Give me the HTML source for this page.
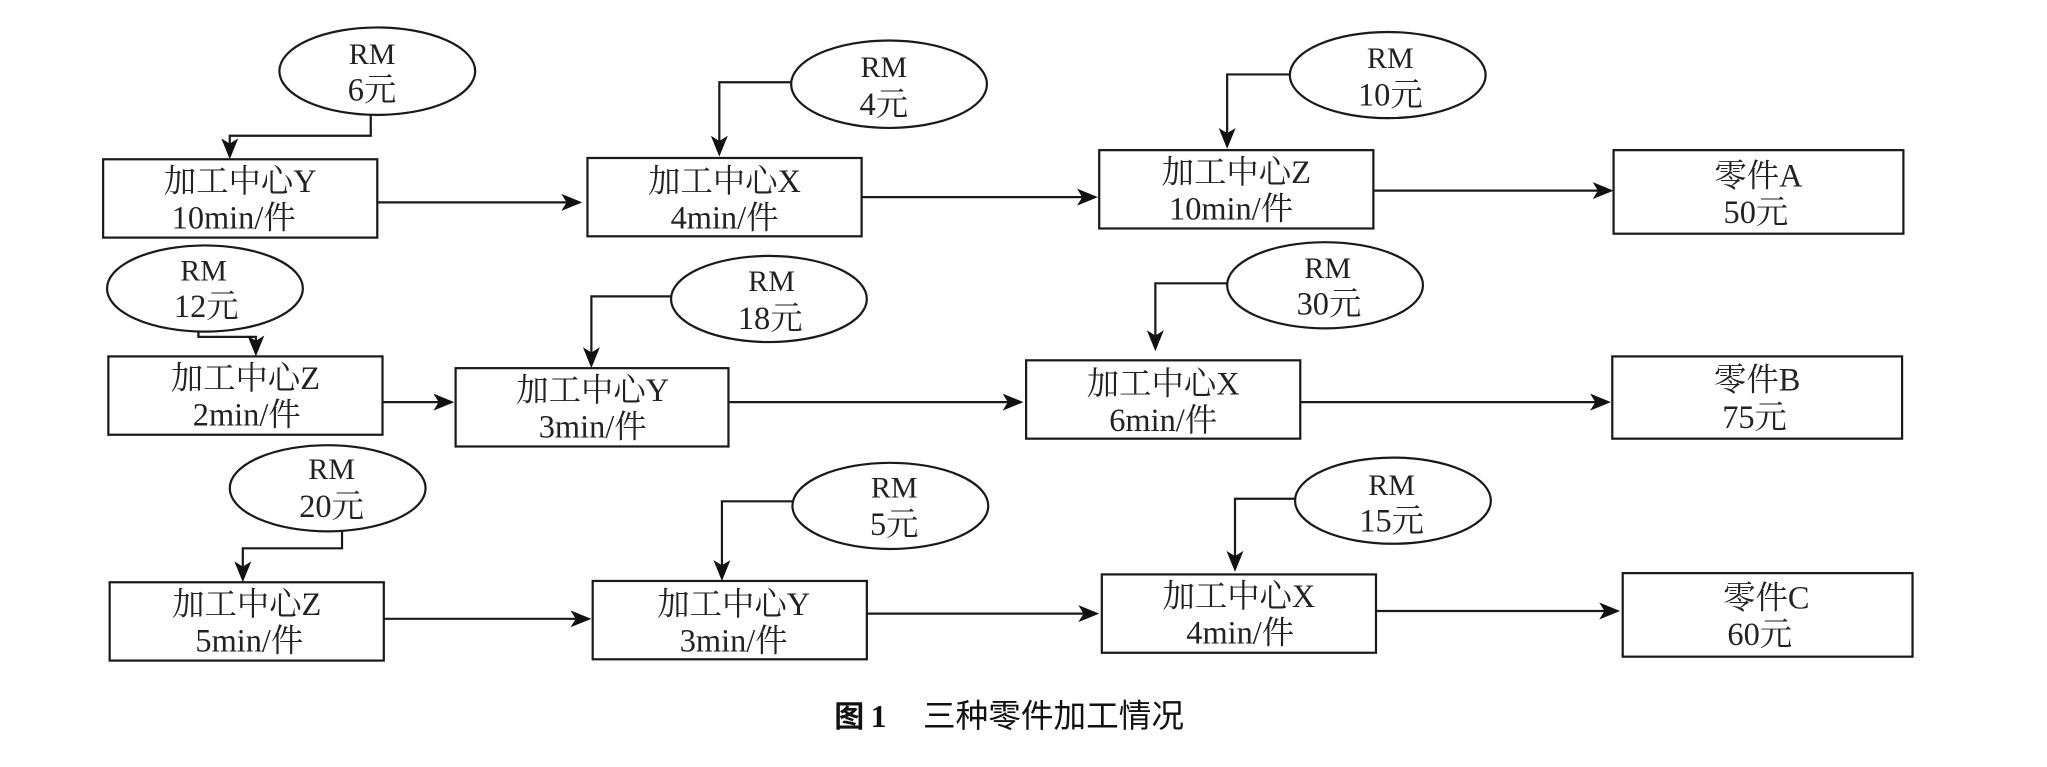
<!DOCTYPE html>
<html><head><meta charset="utf-8">
<style>
html,body{margin:0;padding:0;background:#fff;width:2047px;height:767px;overflow:hidden}
svg{display:block}
.b{fill:#fff;stroke:#1a1a1a;stroke-width:1.7}
.c{fill:none;stroke:#1a1a1a;stroke-width:1.7}
.t{font-family:"Liberation Serif","Noto Serif CJK SC",serif;font-size:24.8px;fill:#222;text-anchor:middle}
.r{font-family:"Liberation Serif","Noto Serif CJK SC",serif;font-size:23px;fill:#222;text-anchor:middle}
.a{fill:#111;stroke:none}
</style></head><body>
<svg xmlns="http://www.w3.org/2000/svg" width="2047" height="767" viewBox="0 0 1568 587.5">
<defs>
<path id="ad" class="a" d="M0 0 L-6.5 -16 L0 -12 L6.5 -16 Z"/>
<path id="ar" class="a" d="M0 0 L-16 -6.5 L-12 0 L-16 6.5 Z"/>
</defs>
<!-- connectors -->
<polyline class="c" points="284,88 284,104 176,104 176,112"/><use href="#ad" x="176" y="122"/>
<polyline class="c" points="606,63 551,63 551,110"/><use href="#ad" x="551" y="120"/>
<polyline class="c" points="988,57 940,57 940,104"/><use href="#ad" x="940" y="114"/>
<polyline class="c" points="152,254 152,258 196,258 196,264"/><use href="#ad" x="196" y="273"/>
<polyline class="c" points="514,227 453,227 453,272"/><use href="#ad" x="453" y="282"/>
<polyline class="c" points="940,217 885,217 885,259"/><use href="#ad" x="885" y="269"/>
<polyline class="c" points="262,406 262,420 186,420 186,436"/><use href="#ad" x="186" y="446"/>
<polyline class="c" points="607,384 553,384 553,435"/><use href="#ad" x="553" y="445"/>
<polyline class="c" points="992,382 946,382 946,428"/><use href="#ad" x="946" y="438"/>
<line class="c" x1="289" y1="155" x2="436" y2="155"/><use href="#ar" x="446" y="155"/>
<line class="c" x1="660" y1="151" x2="831" y2="151"/><use href="#ar" x="841" y="151"/>
<line class="c" x1="1052" y1="146" x2="1226" y2="146"/><use href="#ar" x="1236" y="146"/>
<line class="c" x1="293" y1="308" x2="338" y2="308"/><use href="#ar" x="348" y="308"/>
<line class="c" x1="558" y1="308" x2="774" y2="308"/><use href="#ar" x="784" y="308"/>
<line class="c" x1="996" y1="308" x2="1224" y2="308"/><use href="#ar" x="1234" y="308"/>
<line class="c" x1="294" y1="474" x2="443" y2="474"/><use href="#ar" x="453" y="474"/>
<line class="c" x1="664" y1="470" x2="832" y2="470"/><use href="#ar" x="842" y="470"/>
<line class="c" x1="1054" y1="468" x2="1231" y2="468"/><use href="#ar" x="1241" y="468"/>
<!-- boxes -->
<rect class="b" x="79" y="122" width="210" height="60"/>
<rect class="b" x="450" y="121" width="210" height="60"/>
<rect class="b" x="842" y="115" width="210" height="60"/>
<rect class="b" x="1236" y="115" width="222" height="64"/>
<rect class="b" x="83" y="273" width="210" height="60"/>
<rect class="b" x="349" y="282" width="209" height="60"/>
<rect class="b" x="786" y="276" width="210" height="60"/>
<rect class="b" x="1235" y="273" width="222" height="63"/>
<rect class="b" x="84" y="446" width="210" height="60"/>
<rect class="b" x="454" y="445" width="210" height="60"/>
<rect class="b" x="844" y="440" width="210" height="60"/>
<rect class="b" x="1243" y="439" width="222" height="64"/>
<!-- ellipses -->
<ellipse class="b" cx="289" cy="54.500" rx="75" ry="33.500"/>
<ellipse class="b" cx="681" cy="64.500" rx="75" ry="33.500"/>
<ellipse class="b" cx="1063" cy="57.500" rx="75" ry="33"/>
<ellipse class="b" cx="157" cy="221" rx="75" ry="33"/>
<ellipse class="b" cx="589" cy="229" rx="75" ry="33"/>
<ellipse class="b" cx="1015" cy="218.500" rx="75" ry="33"/>
<ellipse class="b" cx="251" cy="374" rx="75" ry="33"/>
<ellipse class="b" cx="682" cy="387.500" rx="75" ry="33"/>
<ellipse class="b" cx="1067" cy="383.500" rx="75" ry="33"/>
<!-- box text -->
<text class="t" x="184" y="147">加工中心Y</text><text class="t" x="179" y="175">10min/件</text>
<text class="t" x="555" y="147">加工中心X</text><text class="t" x="555" y="175">4min/件</text>
<text class="t" x="947" y="140">加工中心Z</text><text class="t" x="943" y="168">10min/件</text>
<text class="t" x="1347" y="143">零件A</text><text class="t" x="1345" y="171">50元</text>
<text class="t" x="188" y="298">加工中心Z</text><text class="t" x="189" y="326">2min/件</text>
<text class="t" x="454" y="307">加工中心Y</text><text class="t" x="454" y="335">3min/件</text>
<text class="t" x="891" y="302">加工中心X</text><text class="t" x="891" y="330">6min/件</text>
<text class="t" x="1346" y="299">零件B</text><text class="t" x="1344" y="328">75元</text>
<text class="t" x="189" y="471">加工中心Z</text><text class="t" x="191" y="499">5min/件</text>
<text class="t" x="562" y="471">加工中心Y</text><text class="t" x="562" y="499">3min/件</text>
<text class="t" x="949" y="465">加工中心X</text><text class="t" x="950" y="493">4min/件</text>
<text class="t" x="1353" y="466">零件C</text><text class="t" x="1348" y="494">60元</text>
<!-- ellipse text -->
<text class="r" x="285" y="49">RM</text><text class="t" x="285" y="77">6元</text>
<text class="r" x="677" y="59">RM</text><text class="t" x="677" y="88">4元</text>
<text class="r" x="1065" y="52">RM</text><text class="t" x="1065" y="81">10元</text>
<text class="r" x="156" y="215">RM</text><text class="t" x="158" y="243">12元</text>
<text class="r" x="591" y="223">RM</text><text class="t" x="590" y="252">18元</text>
<text class="r" x="1017" y="213">RM</text><text class="t" x="1018" y="241">30元</text>
<text class="r" x="254" y="367">RM</text><text class="t" x="254" y="396">20元</text>
<text class="r" x="685" y="381">RM</text><text class="t" x="685" y="410">5元</text>
<text class="r" x="1066" y="379">RM</text><text class="t" x="1066" y="407">15元</text>
<!-- caption -->
<text x="639" y="557" style="font-family:'Noto Sans CJK SC',sans-serif;font-size:23px;font-weight:700;fill:#111">图</text>
<text x="667" y="557" style="font-family:'Liberation Serif',serif;font-size:24px;font-weight:700;fill:#111">1</text>
<text x="707" y="557" style="font-family:'Noto Sans CJK SC',sans-serif;font-size:25px;fill:#111">三种零件加工情况</text>
</svg>
</body></html>
